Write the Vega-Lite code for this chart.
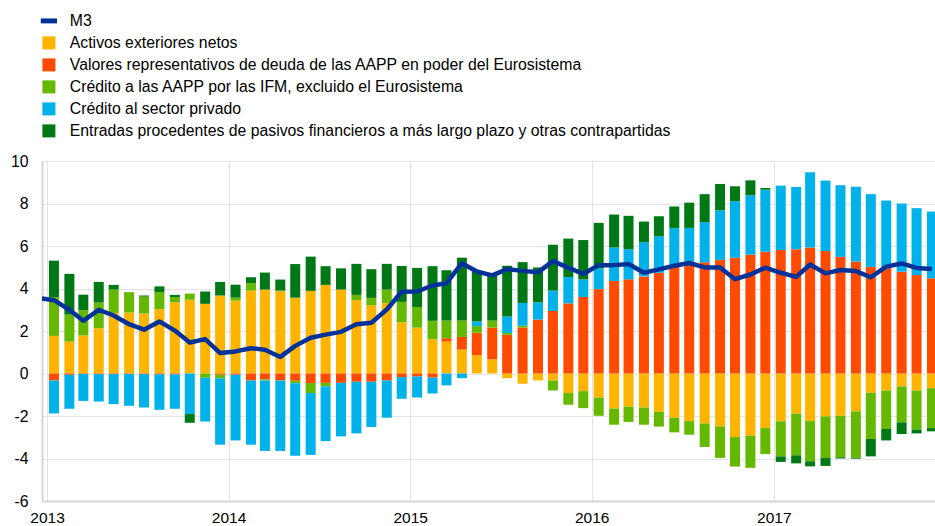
{
  "$schema": "https://vega.github.io/schema/vega-lite/v6.json",
  "width": 893,
  "height": 340,
  "autosize": {"type": "none"},
  "padding": {"left": 42, "top": 161, "right": 0, "bottom": 25},
  "background": "white",
  "config": {"font": "Liberation Sans", "view": {"stroke": null}},
  "datasets": {
    "contrib": [
      {"fecha": "2013-01-15", "Y": 1.77, "R": -0.33, "LG": 1.83, "B": -1.55, "DG": 1.71},
      {"fecha": "2013-02-15", "Y": 1.50, "R": -0.06, "LG": 1.27, "B": -1.60, "DG": 1.92},
      {"fecha": "2013-03-15", "Y": 1.79, "R": -0.02, "LG": 1.19, "B": -1.27, "DG": 0.73},
      {"fecha": "2013-04-15", "Y": 2.13, "R": -0.03, "LG": 1.21, "B": -1.29, "DG": 0.97},
      {"fecha": "2013-05-15", "Y": 2.85, "R": -0.03, "LG": 1.10, "B": -1.41, "DG": 0.22},
      {"fecha": "2013-06-15", "Y": 2.87, "R": -0.02, "LG": 0.96, "B": -1.50, "DG": 0},
      {"fecha": "2013-07-15", "Y": 2.82, "R": -0.02, "LG": 0.80, "B": -1.58, "DG": 0.05},
      {"fecha": "2013-08-15", "Y": 3.03, "R": -0.04, "LG": 0.80, "B": -1.67, "DG": 0.27},
      {"fecha": "2013-09-15", "Y": 3.35, "R": -0.04, "LG": 0.25, "B": -1.62, "DG": 0.10},
      {"fecha": "2013-10-15", "Y": 3.47, "R": 0, "LG": 0.29, "B": -1.91, "DG": -0.41},
      {"fecha": "2013-11-15", "Y": 3.28, "R": 0, "LG": -0.20, "B": -2.06, "DG": 0.58},
      {"fecha": "2013-12-15", "Y": 3.67, "R": -0.06, "LG": -0.17, "B": -3.12, "DG": 0.64},
      {"fecha": "2014-01-15", "Y": 3.43, "R": -0.06, "LG": 0.14, "B": -3.09, "DG": 0.61},
      {"fecha": "2014-02-15", "Y": 3.90, "R": -0.33, "LG": 0.35, "B": -3.02, "DG": 0.28},
      {"fecha": "2014-03-15", "Y": 3.95, "R": -0.28, "LG": -0.05, "B": -3.32, "DG": 0.80},
      {"fecha": "2014-04-15", "Y": 3.87, "R": -0.33, "LG": 0.03, "B": -3.32, "DG": 0.52},
      {"fecha": "2014-05-15", "Y": 3.57, "R": -0.34, "LG": -0.12, "B": -3.41, "DG": 1.58},
      {"fecha": "2014-06-15", "Y": 3.89, "R": -0.45, "LG": -0.47, "B": -2.91, "DG": 1.61},
      {"fecha": "2014-07-15", "Y": 4.17, "R": -0.44, "LG": -0.17, "B": -2.57, "DG": 0.88},
      {"fecha": "2014-08-15", "Y": 3.95, "R": -0.44, "LG": 0, "B": -2.52, "DG": 1.00},
      {"fecha": "2014-09-15", "Y": 3.45, "R": -0.39, "LG": 0.25, "B": -2.43, "DG": 1.46},
      {"fecha": "2014-10-15", "Y": 3.21, "R": -0.39, "LG": 0.35, "B": -2.13, "DG": 1.35},
      {"fecha": "2014-11-15", "Y": 3.32, "R": -0.33, "LG": 0.63, "B": -1.75, "DG": 1.21},
      {"fecha": "2014-12-15", "Y": 2.41, "R": -0.17, "LG": 0.96, "B": -1.02, "DG": 1.69},
      {"fecha": "2015-01-15", "Y": 2.16, "R": -0.14, "LG": 0.97, "B": -0.99, "DG": 1.84},
      {"fecha": "2015-02-15", "Y": 1.61, "R": -0.19, "LG": 0.87, "B": -0.75, "DG": 2.57},
      {"fecha": "2015-03-15", "Y": 1.50, "R": 0.16, "LG": 0.83, "B": -0.56, "DG": 2.37},
      {"fecha": "2015-04-15", "Y": 1.13, "R": 0.59, "LG": 0.77, "B": -0.22, "DG": 2.96},
      {"fecha": "2015-05-15", "Y": 0.86, "R": 1.06, "LG": 0.31, "B": 0.22, "DG": 2.35},
      {"fecha": "2015-06-15", "Y": 0.67, "R": 1.49, "LG": 0.33, "B": 0, "DG": 2.19},
      {"fecha": "2015-07-15", "Y": -0.22, "R": 1.82, "LG": 0.09, "B": 0.77, "DG": 2.39},
      {"fecha": "2015-08-15", "Y": -0.48, "R": 2.16, "LG": 0.09, "B": 1.07, "DG": 1.92},
      {"fecha": "2015-09-15", "Y": -0.33, "R": 2.54, "LG": 0, "B": 0.81, "DG": 1.64},
      {"fecha": "2015-10-15", "Y": -0.33, "R": 2.94, "LG": -0.47, "B": 0.96, "DG": 2.16},
      {"fecha": "2015-11-15", "Y": -0.92, "R": 3.30, "LG": -0.55, "B": 1.24, "DG": 1.81},
      {"fecha": "2015-12-15", "Y": -0.83, "R": 3.60, "LG": -0.80, "B": 0.83, "DG": 1.85},
      {"fecha": "2016-01-15", "Y": -1.13, "R": 3.97, "LG": -0.86, "B": 0.98, "DG": 2.14},
      {"fecha": "2016-02-15", "Y": -1.65, "R": 4.35, "LG": -0.76, "B": 1.58, "DG": 1.55},
      {"fecha": "2016-03-15", "Y": -1.56, "R": 4.43, "LG": -0.72, "B": 1.42, "DG": 1.57},
      {"fecha": "2016-04-15", "Y": -1.60, "R": 4.57, "LG": -0.81, "B": 1.61, "DG": 0.97},
      {"fecha": "2016-05-15", "Y": -1.80, "R": 4.74, "LG": -0.70, "B": 1.72, "DG": 0.94},
      {"fecha": "2016-06-15", "Y": -2.08, "R": 5.02, "LG": -0.69, "B": 1.82, "DG": 1.02},
      {"fecha": "2016-07-15", "Y": -2.24, "R": 5.26, "LG": -0.64, "B": 1.59, "DG": 1.19},
      {"fecha": "2016-08-15", "Y": -2.35, "R": 5.23, "LG": -1.11, "B": 1.89, "DG": 1.32},
      {"fecha": "2016-09-15", "Y": -2.49, "R": 5.35, "LG": -1.48, "B": 2.33, "DG": 1.24},
      {"fecha": "2016-10-15", "Y": -2.99, "R": 5.45, "LG": -1.39, "B": 2.66, "DG": 0.70},
      {"fecha": "2016-11-15", "Y": -2.93, "R": 5.59, "LG": -1.51, "B": 2.80, "DG": 0.70},
      {"fecha": "2016-12-15", "Y": -2.57, "R": 5.73, "LG": -1.22, "B": 2.92, "DG": 0.08},
      {"fecha": "2017-01-15", "Y": -2.25, "R": 5.81, "LG": -1.65, "B": 3.03, "DG": -0.26},
      {"fecha": "2017-02-15", "Y": -1.89, "R": 5.85, "LG": -1.96, "B": 2.93, "DG": -0.38},
      {"fecha": "2017-03-15", "Y": -2.24, "R": 5.93, "LG": -1.89, "B": 3.54, "DG": -0.24},
      {"fecha": "2017-04-15", "Y": -2.02, "R": 5.76, "LG": -1.95, "B": 3.32, "DG": -0.38},
      {"fecha": "2017-05-15", "Y": -1.99, "R": 5.49, "LG": -1.95, "B": 3.37, "DG": -0.06},
      {"fecha": "2017-06-15", "Y": -1.78, "R": 5.27, "LG": -2.19, "B": 3.52, "DG": -0.04},
      {"fecha": "2017-07-15", "Y": -0.91, "R": 5.02, "LG": -2.17, "B": 3.42, "DG": -0.82},
      {"fecha": "2017-08-15", "Y": -0.80, "R": 4.99, "LG": -1.81, "B": 3.15, "DG": -0.54},
      {"fecha": "2017-09-15", "Y": -0.61, "R": 4.79, "LG": -1.69, "B": 3.21, "DG": -0.55},
      {"fecha": "2017-10-15", "Y": -0.80, "R": 4.63, "LG": -1.84, "B": 3.15, "DG": -0.18},
      {"fecha": "2017-11-15", "Y": -0.69, "R": 4.48, "LG": -1.88, "B": 3.14, "DG": -0.15}
    ],
    "series": [
      {"serie": "Y", "orden": 1, "nombre": "Activos exteriores netos"},
      {"serie": "R", "orden": 2, "nombre": "Valores representativos de deuda de las AAPP en poder del Eurosistema"},
      {"serie": "LG", "orden": 3, "nombre": "Crédito a las AAPP por las IFM, excluido el Eurosistema"},
      {"serie": "B", "orden": 4, "nombre": "Crédito al sector privado"},
      {"serie": "DG", "orden": 5, "nombre": "Entradas procedentes de pasivos financieros a más largo plazo y otras contrapartidas"}
    ],
    "m3": [
      {"fecha": "2012-12-15", "m3": 3.55},
      {"fecha": "2013-01-15", "m3": 3.45},
      {"fecha": "2013-02-15", "m3": 3.00},
      {"fecha": "2013-03-15", "m3": 2.48},
      {"fecha": "2013-04-15", "m3": 3.00},
      {"fecha": "2013-05-15", "m3": 2.73},
      {"fecha": "2013-06-15", "m3": 2.32},
      {"fecha": "2013-07-15", "m3": 2.06},
      {"fecha": "2013-08-15", "m3": 2.45},
      {"fecha": "2013-09-15", "m3": 2.02},
      {"fecha": "2013-10-15", "m3": 1.46},
      {"fecha": "2013-11-15", "m3": 1.62},
      {"fecha": "2013-12-15", "m3": 0.96},
      {"fecha": "2014-01-15", "m3": 1.04},
      {"fecha": "2014-02-15", "m3": 1.19},
      {"fecha": "2014-03-15", "m3": 1.12},
      {"fecha": "2014-04-15", "m3": 0.78},
      {"fecha": "2014-05-15", "m3": 1.30},
      {"fecha": "2014-06-15", "m3": 1.68},
      {"fecha": "2014-07-15", "m3": 1.83},
      {"fecha": "2014-08-15", "m3": 1.96},
      {"fecha": "2014-09-15", "m3": 2.32},
      {"fecha": "2014-10-15", "m3": 2.39},
      {"fecha": "2014-11-15", "m3": 3.01},
      {"fecha": "2014-12-15", "m3": 3.85},
      {"fecha": "2015-01-15", "m3": 3.86},
      {"fecha": "2015-02-15", "m3": 4.14},
      {"fecha": "2015-03-15", "m3": 4.25},
      {"fecha": "2015-04-15", "m3": 5.19},
      {"fecha": "2015-05-15", "m3": 4.80},
      {"fecha": "2015-06-15", "m3": 4.62},
      {"fecha": "2015-07-15", "m3": 4.91},
      {"fecha": "2015-08-15", "m3": 4.83},
      {"fecha": "2015-09-15", "m3": 4.76},
      {"fecha": "2015-10-15", "m3": 5.29},
      {"fecha": "2015-11-15", "m3": 4.98},
      {"fecha": "2015-12-15", "m3": 4.68},
      {"fecha": "2016-01-15", "m3": 5.10},
      {"fecha": "2016-02-15", "m3": 5.10},
      {"fecha": "2016-03-15", "m3": 5.15},
      {"fecha": "2016-04-15", "m3": 4.74},
      {"fecha": "2016-05-15", "m3": 4.90},
      {"fecha": "2016-06-15", "m3": 5.07},
      {"fecha": "2016-07-15", "m3": 5.20},
      {"fecha": "2016-08-15", "m3": 4.99},
      {"fecha": "2016-09-15", "m3": 4.99},
      {"fecha": "2016-10-15", "m3": 4.44},
      {"fecha": "2016-11-15", "m3": 4.66},
      {"fecha": "2016-12-15", "m3": 4.98},
      {"fecha": "2017-01-15", "m3": 4.74},
      {"fecha": "2017-02-15", "m3": 4.55},
      {"fecha": "2017-03-15", "m3": 5.13},
      {"fecha": "2017-04-15", "m3": 4.71},
      {"fecha": "2017-05-15", "m3": 4.87},
      {"fecha": "2017-06-15", "m3": 4.82},
      {"fecha": "2017-07-15", "m3": 4.53},
      {"fecha": "2017-08-15", "m3": 5.03},
      {"fecha": "2017-09-15", "m3": 5.18},
      {"fecha": "2017-10-15", "m3": 4.97},
      {"fecha": "2017-11-15", "m3": 4.92}
    ]
  },
  "layer": [
    {
      "data": {"name": "contrib"},
      "transform": [
        {"fold": ["Y", "R", "LG", "B", "DG"], "as": ["serie", "valor"]},
        {"lookup": "serie", "from": {"data": {"name": "series"}, "key": "serie", "fields": ["orden", "nombre"]}}
      ],
      "mark": {"type": "bar", "size": 10, "clip": true},
      "encoding": {
        "x": {
          "field": "fecha", "type": "temporal",
          "scale": {"type": "utc", "domain": ["2013-01-01", "2017-11-11"]},
          "axis": {
            "title": null, "format": "%Y", "tickCount": "year",
            "grid": true, "gridColor": "#e4e4e4", "gridWidth": 1,
            "ticks": false, "domain": true, "domainColor": "#d6d6d6", "domainWidth": 2,
            "labelFontSize": 15.5, "labelColor": "#000000", "labelAlign": "center",
            "labelDx": 7, "labelPadding": 9, "labelFlush": false, "labelOverlap": false
          }
        },
        "y": {
          "field": "valor", "type": "quantitative", "stack": "zero",
          "scale": {"domain": [-6, 10], "nice": false},
          "axis": {
            "title": null, "values": [-6, -4, -2, 0, 2, 4, 6, 8, 10],
            "labelExpr": "'' + datum.value",
            "grid": true, "gridColor": "#e4e4e4", "gridWidth": 1,
            "ticks": false, "domain": true, "domainColor": "#d6d6d6", "domainWidth": 2,
            "labelFontSize": 15.8, "labelColor": "#000000", "labelPadding": 14
          }
        },
        "color": {
          "field": "nombre", "type": "nominal",
          "scale": {
            "domain": [
              "M3",
              "Activos exteriores netos",
              "Valores representativos de deuda de las AAPP en poder del Eurosistema",
              "Crédito a las AAPP por las IFM, excluido el Eurosistema",
              "Crédito al sector privado",
              "Entradas procedentes de pasivos financieros a más largo plazo y otras contrapartidas"
            ],
            "range": ["#003299", "#FFB400", "#FF4B00", "#65B800", "#00B1EA", "#007816"]
          },
          "legend": {
            "title": null, "orient": "none", "legendX": -1, "legendY": -148,
            "direction": "vertical", "padding": 0,
            "symbolType": "square", "symbolSize": 169, "symbolStrokeWidth": 0,
            "labelFontSize": 15.8, "labelColor": "#000000", "labelOffset": 13,
            "labelLimit": 900, "rowPadding": 5,
            "encode": {
              "symbols": {
                "update": {
                  "shape": {"signal": "datum.value === 'M3' ? 'M-1.25,-0.38H1.25V0.38H-1.25Z' : 'square'"},
                  "fill": {"scale": "color", "field": "value"},
                  "stroke": {"value": "transparent"},
                  "opacity": {"value": 1}
                }
              }
            }
          }
        },
        "order": {"field": "orden", "type": "quantitative"}
      }
    },
    {
      "data": {"name": "m3"},
      "mark": {"type": "line", "strokeWidth": 4.5, "strokeJoin": "round", "clip": true},
      "encoding": {
        "x": {"field": "fecha", "type": "temporal"},
        "y": {"field": "m3", "type": "quantitative"},
        "color": {"datum": "M3"}
      }
    }
  ]
}
